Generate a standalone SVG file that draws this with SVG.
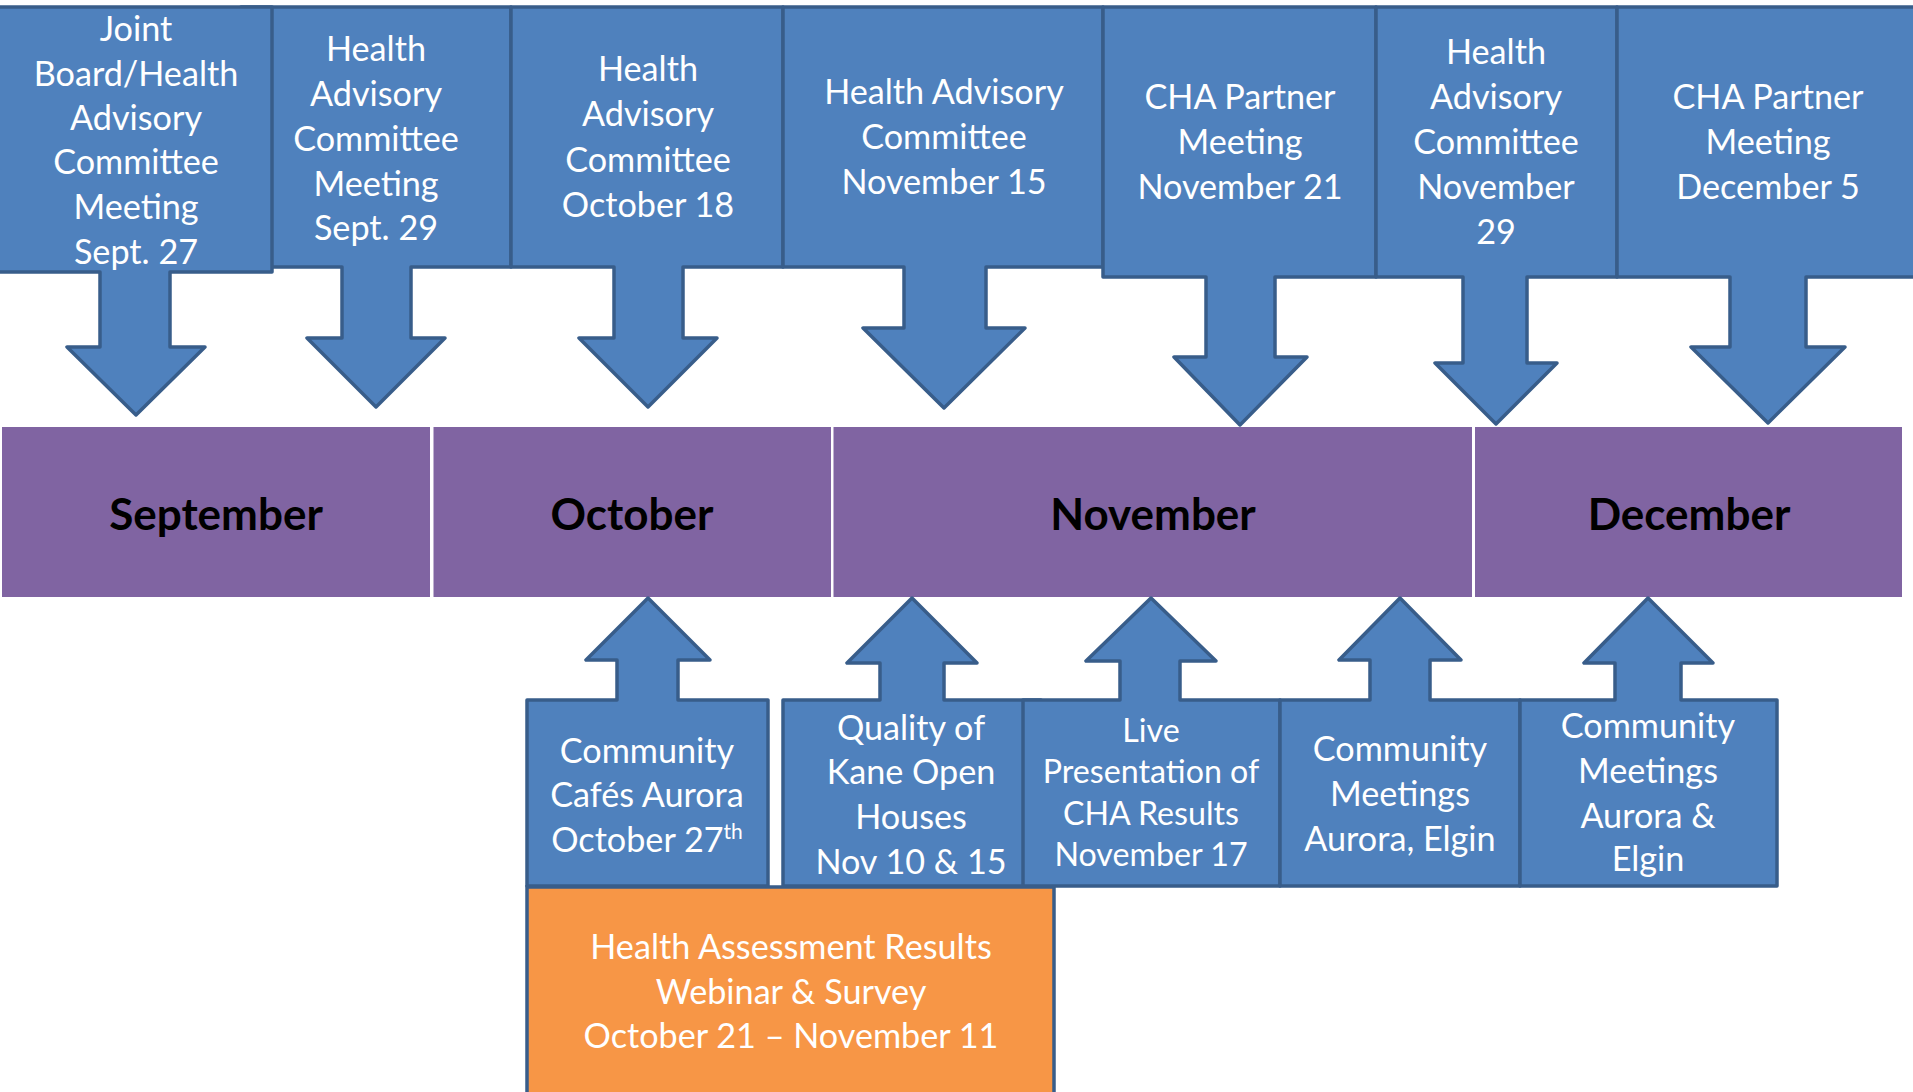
<svg xmlns="http://www.w3.org/2000/svg" width="1913" height="1092" viewBox="0 0 1913 1092">
<style>
.co{fill:#4F81BD;stroke:#385D8A;stroke-width:3.5;stroke-linejoin:round}
.or{fill:#F79646;stroke:#385D8A;stroke-width:3.5}
.mo{fill:#8064A2}
.t{font-family:Lato,"Liberation Sans",sans-serif;font-size:34.2px;fill:#FFFFFF;text-anchor:middle}
.ts{font-size:32.2px}
.m{font-family:Lato,"Liberation Sans",sans-serif;font-size:44px;font-weight:bold;fill:#000000;text-anchor:middle}
</style>
<rect width="1913" height="1092" fill="#FFFFFF"/>
<g id="timeline">
<g id="month-sep"><rect class="mo" x="2" y="427" width="428" height="170"/><text class="m" x="216" y="530">September</text></g>
<g id="month-oct"><rect class="mo" x="433.5" y="427" width="397.5" height="170"/><text class="m" x="632" y="530">October</text></g>
<g id="month-nov"><rect class="mo" x="833.5" y="427" width="638.5" height="170"/><text class="m" x="1153" y="530">November</text></g>
<g id="month-dec"><rect class="mo" x="1475" y="427" width="427" height="170"/><text class="m" x="1689" y="530">December</text></g>
</g>
<g id="connectors"></g>
<g id="top-events">
<g id="ev-sep29">
<path class="co" d="M241,7 H511 V267 H411 V338 H445 L376,407 L307,338 H342 V267 H241 Z"/>
<text class="t" x="376"><tspan x="376" y="61">Health</tspan><tspan x="376" y="106">Advisory</tspan><tspan x="376" y="151">Committee</tspan><tspan x="376" y="196">Meeting</tspan><tspan x="376" y="240">Sept. 29</tspan></text>
</g>
<g id="ev-sep27">
<path class="co" d="M-2,7 H272 V272 H170 V347 H205 L136,415 L67,347 H100 V272 H-2 Z"/>
<text class="t" x="136"><tspan x="136" y="41">Joint</tspan><tspan x="136" y="86">Board/Health</tspan><tspan x="136" y="130">Advisory</tspan><tspan x="136" y="174">Committee</tspan><tspan x="136" y="219">Meeting</tspan><tspan x="136" y="264">Sept. 27</tspan></text>
</g>
<g id="ev-oct18">
<path class="co" d="M511,7 H783 V267 H683 V338 H717 L648,407 L579,338 H614 V267 H511 Z"/>
<text class="t" x="648"><tspan x="648" y="81">Health</tspan><tspan x="648" y="126">Advisory</tspan><tspan x="648" y="172">Committee</tspan><tspan x="648" y="217">October 18</tspan></text>
</g>
<g id="ev-nov15">
<path class="co" d="M783,7 H1103 V267 H986 V328 H1025 L944,408 L863,328 H904 V267 H783 Z"/>
<text class="t" x="944"><tspan x="944" y="104">Health Advisory</tspan><tspan x="944" y="149">Committee</tspan><tspan x="944" y="194">November 15</tspan></text>
</g>
<g id="ev-nov21">
<path class="co" d="M1103,7 H1376 V277 H1275 V357 H1307 L1240,425 L1174,357 H1206 V277 H1103 Z"/>
<text class="t" x="1240"><tspan x="1240" y="109">CHA Partner</tspan><tspan x="1240" y="154">Meeting</tspan><tspan x="1240" y="199">November 21</tspan></text>
</g>
<g id="ev-nov29">
<path class="co" d="M1376,7 H1617 V277 H1527 V363 H1557 L1496,424 L1435,363 H1463 V277 H1376 Z"/>
<text class="t" x="1496"><tspan x="1496" y="64">Health</tspan><tspan x="1496" y="109">Advisory</tspan><tspan x="1496" y="154">Committee</tspan><tspan x="1496" y="199">November</tspan><tspan x="1496" y="244">29</tspan></text>
</g>
<g id="ev-dec5">
<path class="co" d="M1617,7 H1920 V277 H1806 V347 H1845 L1768,423 L1691,347 H1730 V277 H1617 Z"/>
<text class="t" x="1768"><tspan x="1768" y="109">CHA Partner</tspan><tspan x="1768" y="154">Meeting</tspan><tspan x="1768" y="199">December 5</tspan></text>
</g>
</g>
<g id="bottom-events">
<g id="ev-cafes">
<path class="co" d="M527,886 H768 V700 H678 V660 H710 L648,598 L586,660 H617 V700 H527 Z"/>
<text class="t" x="647"><tspan x="647" y="763">Community</tspan><tspan x="647" y="807">Cafés Aurora</tspan><tspan x="647" y="852">October 27<tspan dy="-13" font-size="21">th</tspan></tspan></text>
</g>
<g id="ev-quality">
<path class="co" d="M783,886 H1041 V700 H944 V663 H977 L912,598 L847,663 H880 V700 H783 Z"/>
<text class="t" x="911"><tspan x="911" y="740">Quality of</tspan><tspan x="911" y="784">Kane Open</tspan><tspan x="911" y="829">Houses</tspan><tspan x="911" y="874">Nov 10 &amp; 15</tspan></text>
</g>
<g id="ev-live">
<path class="co" d="M1023,886 H1280 V700 H1180 V661 H1216 L1151,598 L1086,661 H1120 V700 H1023 Z"/>
<text class="t ts" x="1151"><tspan x="1151" y="742">Live</tspan><tspan x="1151" y="783">Presentation of</tspan><tspan x="1151" y="825">CHA Results</tspan><tspan x="1151" y="866">November 17</tspan></text>
</g>
<g id="ev-meet1">
<path class="co" d="M1280,886 H1520 V700 H1430 V660 H1461 L1400,598 L1339,660 H1370 V700 H1280 Z"/>
<text class="t" x="1400"><tspan x="1400" y="761">Community</tspan><tspan x="1400" y="806">Meetings</tspan><tspan x="1400" y="851">Aurora, Elgin</tspan></text>
</g>
<g id="ev-meet2">
<path class="co" d="M1520,886 H1777 V700 H1681 V663 H1713 L1648,598 L1584,663 H1615 V700 H1520 Z"/>
<text class="t" x="1648"><tspan x="1648" y="738">Community</tspan><tspan x="1648" y="783">Meetings</tspan><tspan x="1648" y="828">Aurora &amp;</tspan><tspan x="1648" y="871">Elgin</tspan></text>
</g>
<g id="ev-webinar">
<rect class="or" x="527" y="887" width="527" height="220"/>
<text class="t" x="791"><tspan x="791" y="959">Health Assessment Results</tspan><tspan x="791" y="1004">Webinar &amp; Survey</tspan><tspan x="791" y="1048">October 21 – November 11</tspan></text>
</g>
</g>
</svg>
